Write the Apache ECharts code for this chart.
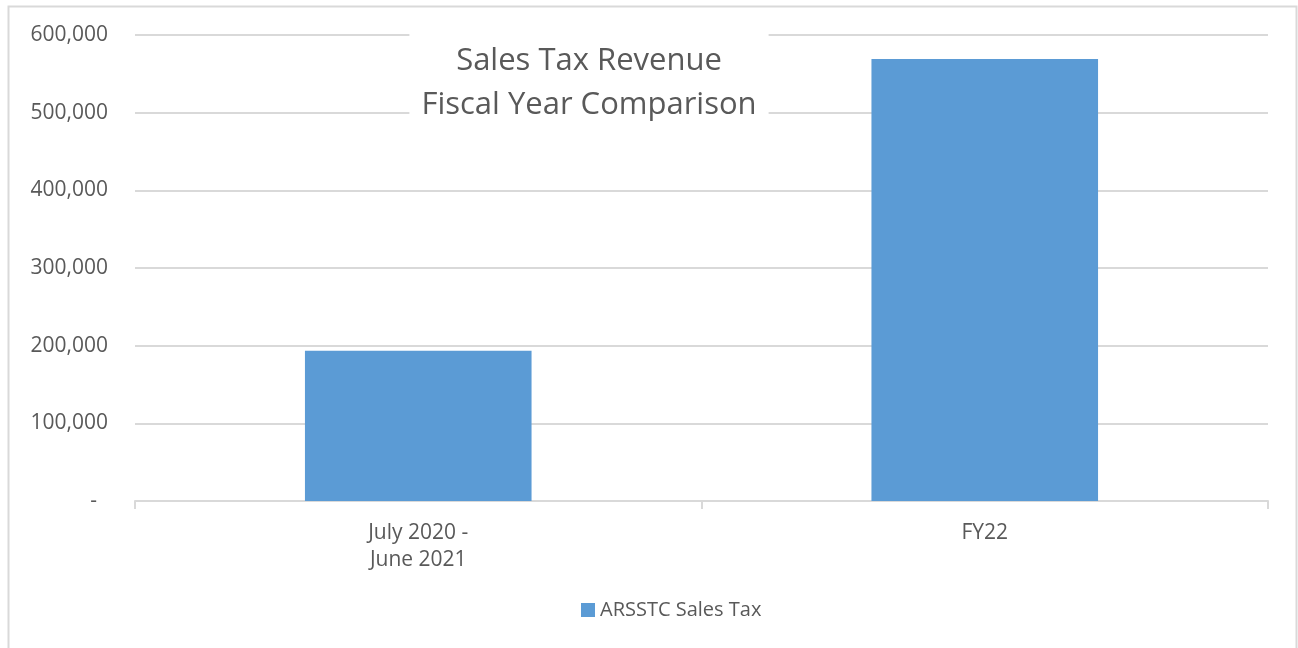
<!DOCTYPE html>
<html>
<head>
<meta charset="utf-8">
<script src="https://cdn.jsdelivr.net/npm/echarts@6/dist/echarts.min.js"></script>
<style>
html,body{margin:0;padding:0;background:#fff;}
#chart{width:1298px;height:648px;}
</style>
</head>
<body>
<div id="chart"></div>
<script>
const categories = ['July 2020 -\nJune 2021', 'FY22'];
const seriesName = 'ARSSTC Sales Tax';
const salesTax = [193500, 569000];
const yTicks = { min: 0, max: 600000, interval: 100000 };

const FONT = '"Open Sans", "Noto Sans", sans-serif';
const TXT = '#595959';
const chart = echarts.init(document.getElementById('chart'));
chart.setOption({
  animation: false,
  backgroundColor: '#fff',
  textStyle: { fontFamily: FONT },
  graphic: [{
    type: 'rect', silent: true, z: -10,
    shape: { x: 8.5, y: 6.5, width: 1288, height: 700 },
    style: { fill: 'none', stroke: '#d9d9d9', lineWidth: 2 }
  }],
  title: {
    text: 'Sales Tax Revenue\nFiscal Year Comparison',
    left: 577, top: 29,
    textAlign: 'center',
    backgroundColor: '#fff',
    padding: [10, 12, 8, 12],
    textStyle: { fontFamily: FONT, fontSize: 31, fontWeight: 'normal', color: TXT, lineHeight: 44 }
  },
  legend: {
    bottom: 23, left: 576,
    itemWidth: 14, itemHeight: 14, itemGap: 10,
    icon: 'rect',
    textStyle: { fontFamily: FONT, fontSize: 20, color: TXT },
    data: [seriesName]
  },
  grid: { left: 135, right: 30, top: 35, bottom: 147, containLabel: false },
  xAxis: {
    type: 'category', data: categories,
    axisLine: { lineStyle: { color: '#d9d9d9', width: 2 } },
    axisTick: { show: true, length: 8, lineStyle: { color: '#d9d9d9', width: 2 } },
    axisLabel: { fontFamily: FONT, fontSize: 21, color: TXT, margin: 19, lineHeight: 27 }
  },
  yAxis: {
    type: 'value', min: yTicks.min, max: yTicks.max, interval: yTicks.interval,
    axisLine: { show: false }, axisTick: { show: false },
    splitLine: { lineStyle: { color: '#d9d9d9', width: 2 } },
    axisLabel: {
      fontFamily: FONT, fontSize: 21, color: TXT, margin: 27,
      formatter: v => v === 0 ? '-  ' : v.toLocaleString('en-US')
    }
  },
  series: [{
    name: seriesName, type: 'bar', data: salesTax,
    barWidth: '40%',
    itemStyle: { color: '#5B9BD5' }
  }]
});
</script>
</body>
</html>
